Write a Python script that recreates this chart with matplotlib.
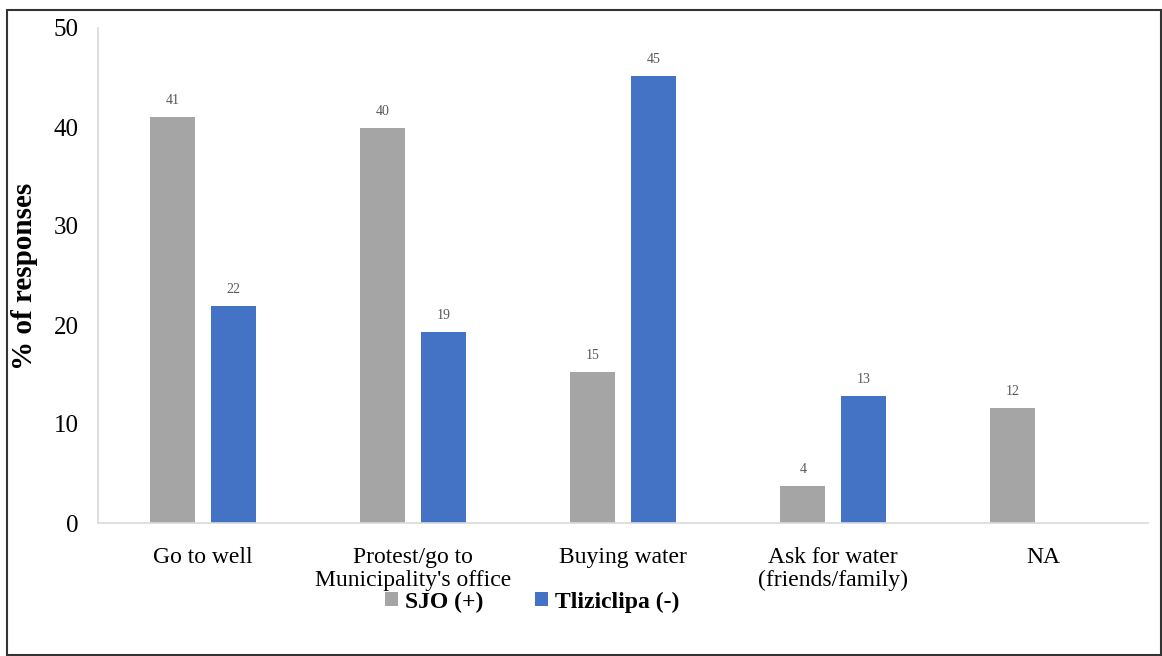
import matplotlib.pyplot as plt
from matplotlib.patches import Rectangle
import numpy as np

# Datos
categorias = ['Go to well', 'Protest/go to\nMunicipality\'s office', 'Buying water',
              'Ask for water\n(friends/family)', 'NA']
sjo = [41.0, 39.9, 15.3, 3.7, 11.6]
tlizic = [21.9, 19.3, 45.2, 12.8, np.nan]
series = ['SJO (+)', 'Tliziclipa (-)']

plt.rcParams['font.family'] = ['Liberation Serif', 'DejaVu Serif']

fig = plt.figure(figsize=(11.62, 6.56), dpi=100)
ax = fig.add_axes([98 / 1162, 1 - 523 / 656, 1050 / 1162, 495 / 656])

x = np.arange(len(categorias))
w = 0.215
off = 0.144
b1 = ax.bar(x - off, sjo, w, color='#A5A5A5', label=series[0])
b2 = ax.bar(x + off, tlizic, w, color='#4472C4', label=series[1])

# Etiquetas de valores
for bars, vals in ((b1, sjo), (b2, tlizic)):
    for rect, v in zip(bars, vals):
        if np.isnan(v):
            continue
        ax.text(rect.get_x() + rect.get_width() / 2, v + 1.0, '%.0f' % v,
                ha='center', va='bottom', fontsize=10, color='#595959')

ax.set_xlim(-0.5, len(categorias) - 0.5)
ax.set_ylim(0, 50)
ax.set_yticks([0, 10, 20, 30, 40, 50])
ax.set_xticks(x)
ax.set_xticklabels(categorias, fontsize=17, linespacing=1.15)
ax.tick_params(axis='y', labelsize=18, length=0, pad=14)
ax.tick_params(axis='x', length=0, pad=17)

for s in ['top', 'right']:
    ax.spines[s].set_visible(False)
ax.spines['left'].set_color('#D9D9D9')
ax.spines['bottom'].set_color('#D9D9D9')
ax.spines['left'].set_linewidth(1.2)
ax.spines['bottom'].set_linewidth(1.2)

fig.text(25 / 1162, 1 - 276 / 656, '% of responses', rotation=90, fontsize=21,
         fontweight='bold', ha='center', va='center')

fig.legend(handles=[b1, b2], loc='center', bbox_to_anchor=(532 / 1162, 1 - 602 / 656),
           ncol=2, frameon=False, prop={'size': 17, 'weight': 'bold'},
           handlelength=0.55, handleheight=0.55, handletextpad=0.3, columnspacing=2.2)

# Marco de la figura
fig.patches.append(Rectangle((7 / 1162, 1 / 656), 1 - 8 / 1162, 1 - 11 / 656,
                             transform=fig.transFigure, fill=False,
                             edgecolor='#333333', linewidth=1.5))

fig.savefig('out.png', dpi=100)
